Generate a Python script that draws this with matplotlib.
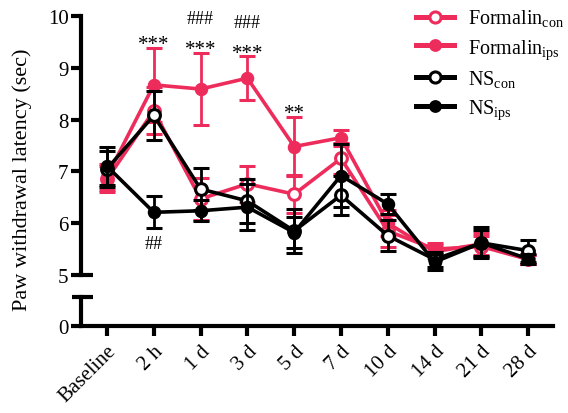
import matplotlib
matplotlib.use("Agg")
import matplotlib.pyplot as plt
from matplotlib.lines import Line2D
import numpy as np

labels = ['Baseline', '2 h', '1 d', '3 d', '5 d', '7 d', '10 d', '14 d', '21 d', '28 d']

formalin_con_mean = [6.85, 8.17, 6.47, 6.76, 6.56, 7.25, 5.85, 5.50, 5.55, 5.30]
formalin_con_sem = [0.25, 0.45, 0.40, 0.35, 0.37, 0.30, 0.30, 0.12, 0.20, 0.08]
formalin_ips_mean = [6.90, 8.67, 8.59, 8.80, 7.48, 7.65, 6.00, 5.45, 5.60, 5.30]
formalin_ips_sem = [0.25, 0.72, 0.70, 0.42, 0.57, 0.15, 0.25, 0.12, 0.22, 0.08]
ns_con_mean = [7.05, 8.08, 6.66, 6.43, 5.85, 6.54, 5.76, 5.30, 5.62, 5.47]
ns_con_sem = [0.35, 0.48, 0.40, 0.42, 0.42, 0.38, 0.30, 0.15, 0.25, 0.21]
ns_ips_mean = [7.10, 6.21, 6.24, 6.31, 5.82, 6.92, 6.37, 5.25, 5.62, 5.31]
ns_ips_sem = [0.37, 0.31, 0.20, 0.45, 0.30, 0.60, 0.19, 0.15, 0.30, 0.10]

stars = {1: '***', 2: '***', 3: '***', 4: '**'}
hashes_top = {2: '###', 3: '###'}
hashes_bottom = {1: '##'}

RED = '#EE2C5C'
BLACK = '#000000'

plt.rcParams['font.family'] = ['Liberation Serif', 'DejaVu Serif']
plt.rcParams['mathtext.fontset'] = 'custom'
plt.rcParams['mathtext.rm'] = 'Liberation Serif'

W, H = 568, 414
fig = plt.figure(figsize=(W / 100, H / 100), dpi=100)

def fx(px):
    return px / W

def fy(py):
    return 1 - py / H

x_left, x_right = 81, 553
ax = fig.add_axes([fx(x_left), fy(276), fx(x_right - x_left), fy(17) - fy(276)])
axb = fig.add_axes([fx(x_left), fy(327), fx(x_right - x_left), fy(298) - fy(327)])

x = np.arange(len(labels))
xlim = (-0.555, 9.53)

series = [
    (formalin_con_mean, formalin_con_sem, RED, 'white', r'Formalin$_{\mathrm{con}}$'),
    (formalin_ips_mean, formalin_ips_sem, RED, RED, r'Formalin$_{\mathrm{ips}}$'),
    (ns_con_mean, ns_con_sem, BLACK, 'white', r'NS$_{\mathrm{con}}$'),
    (ns_ips_mean, ns_ips_sem, BLACK, BLACK, r'NS$_{\mathrm{ips}}$'),
]

handles = []
for i, (m, s, c, mfc, lab) in enumerate(series):
    open_m = (mfc == 'white')
    ms = 8.5 if open_m else 7.5
    ax.errorbar(x, m, yerr=s, color=c, lw=2.6, marker='o',
                ms=ms, mfc=mfc, mec=c,
                mew=2.2, capsize=5.5, capthick=2.2, elinewidth=2.0,
                zorder=3 + i)
    handles.append(Line2D([], [], color=c, lw=3.6, marker='o', ms=ms - 0.5,
                          mfc=mfc, mec=c, mew=2.2, label=lab))

ax.set_xlim(*xlim)
ax.set_ylim(5, 10)
ax.set_yticks([5, 6, 7, 8, 9, 10])
ax.set_xticks([])
for sp in ['top', 'right', 'bottom']:
    ax.spines[sp].set_visible(False)
ax.spines['left'].set_linewidth(3)
ax.tick_params(axis='y', length=7, width=3, labelsize=15, pad=2)
ax.set_facecolor('none')

axb.set_xlim(*xlim)
axb.set_ylim(0, 1)
axb.set_yticks([0])
axb.set_xticks(x)
axb.set_xticklabels(labels, rotation=45, ha='right', rotation_mode='anchor', fontsize=15)
for sp in ['top', 'right']:
    axb.spines[sp].set_visible(False)
axb.spines['left'].set_linewidth(3)
axb.spines['bottom'].set_linewidth(3)
axb.tick_params(axis='y', length=7, width=3, labelsize=15, pad=2)
axb.tick_params(axis='x', length=7, width=3, pad=4)
axb.set_facecolor('none')

# break caps
ax.plot([0, 0.025], [0, 0], transform=ax.transAxes, color='k', lw=3, clip_on=False, solid_capstyle='butt')
axb.plot([-0.02, 0.025], [1, 1], transform=axb.transAxes, color='k', lw=3, clip_on=False, solid_capstyle='butt')

# annotations
for k, t in stars.items():
    top = formalin_ips_mean[k] + formalin_ips_sem[k]
    ax.text(k, top - 0.12, t, ha='center', va='bottom', fontsize=15, color='k')
for k, t in hashes_top.items():
    top = formalin_ips_mean[k] + formalin_ips_sem[k]
    ax.text(k, top + 0.50, t, ha='center', va='bottom', fontsize=13, color='k')
for k, t in hashes_bottom.items():
    bot = ns_ips_mean[k] - ns_ips_sem[k]
    ax.text(k, bot - 0.12, t, ha='center', va='top', fontsize=13, color='k')

fig.text(fx(22), fy(180), 'Paw withdrawal latency (sec)', rotation=90,
         ha='center', va='center', fontsize=16)

leg = fig.legend(handles=handles, loc='upper left', bbox_to_anchor=(fx(414), fy(7)),
                 frameon=False, fontsize=14.5,
                 handlelength=1.9, handletextpad=0.7, labelspacing=0.38,
                 borderaxespad=0.0, borderpad=0.1)

fig.savefig('out.png', dpi=100)
